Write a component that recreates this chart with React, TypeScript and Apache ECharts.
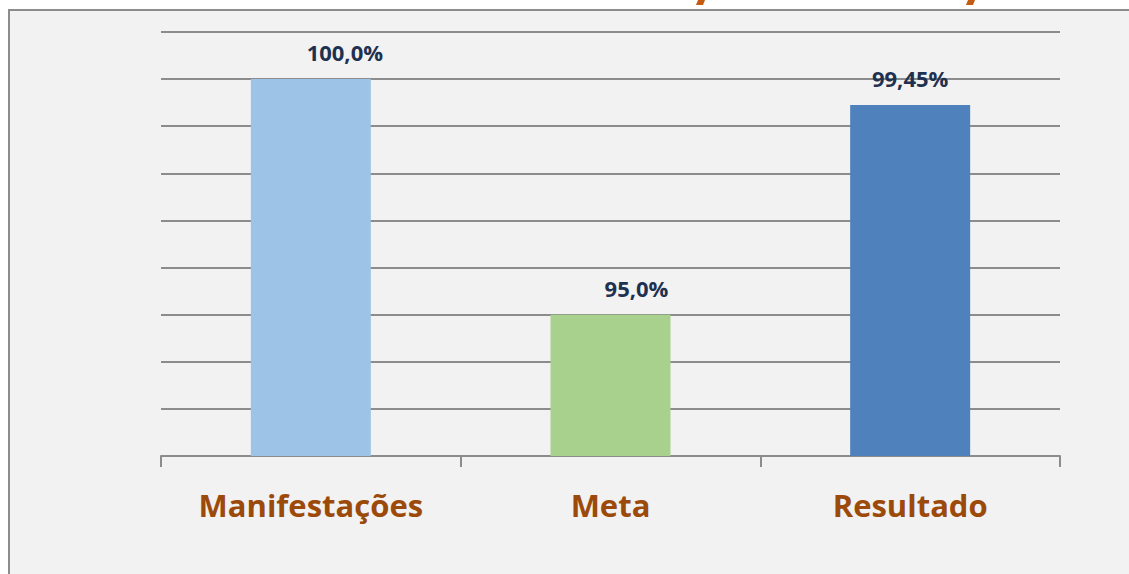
import React, { useEffect, useRef } from "react";
import * as echarts from "echarts";

const categories = ["Manifestações", "Meta", "Resultado"];
const values = [100.0, 95.0, 99.45];
const valueLabels = ["100,0%", "95,0%", "99,45%"];
const barColors = ["#9dc3e6", "#a9d18e", "#4f81bd"];
const labelShift = [34, 26, 0];
const yMin = 92;
const yMax = 101;
const yStep = 1;

export default function App() {
  const ref = useRef<HTMLDivElement>(null);
  useEffect(() => {
    if (!ref.current) return;
    const chart = echarts.init(ref.current, undefined, { renderer: "svg" });
    chart.setOption({
      animation: false,
      backgroundColor: "#ffffff",
      graphic: [
        {
          type: "rect",
          z: -10,
          shape: { x: 9, y: 10, width: 1300, height: 800 },
          style: { fill: "#f2f2f2", stroke: "#8c8c8c", lineWidth: 2 },
        },
        {
          type: "polygon",
          shape: { points: [[698, 0], [705, 0], [703, 5], [696, 5]] },
          style: { fill: "#c55a11" },
        },
        {
          type: "polygon",
          shape: { points: [[968, 0], [975, 0], [973, 5], [966, 5]] },
          style: { fill: "#c55a11" },
        },
      ],
      grid: { left: 161, right: 69, top: 32, bottom: 118 },
      xAxis: {
        type: "category",
        data: categories,
        boundaryGap: true,
        axisLine: { lineStyle: { color: "#8c8c8c", width: 2 } },
        axisTick: { show: true, length: 11, lineStyle: { color: "#8c8c8c", width: 2 } },
        axisLabel: {
          color: "#9c4a0a",
          fontFamily: "Open Sans",
          fontWeight: "bold",
          fontSize: 31,
          margin: 33,
        },
      },
      yAxis: {
        type: "value",
        min: yMin,
        max: yMax,
        interval: yStep,
        axisLine: { show: false },
        axisTick: { show: false },
        axisLabel: { show: false },
        splitLine: { lineStyle: { color: "#8c8c8c", width: 2 } },
      },
      series: [
        {
          type: "bar",
          barWidth: 120,
          data: values.map((v, i) => ({
            value: v,
            itemStyle: { color: barColors[i] },
            label: {
              show: true,
              position: "top",
              distance: 16,
              offset: [labelShift[i], 0],
              formatter: valueLabels[i],
              color: "#1f3150",
              fontFamily: "Open Sans",
              fontWeight: "bold",
              fontSize: 22,
            },
          })),
        },
      ],
    });
    return () => chart.dispose();
  }, []);
  return (
    <div
      ref={ref}
      style={{ position: "absolute", left: 0, top: 0, width: 1129, height: 574 }}
    />
  );
}
